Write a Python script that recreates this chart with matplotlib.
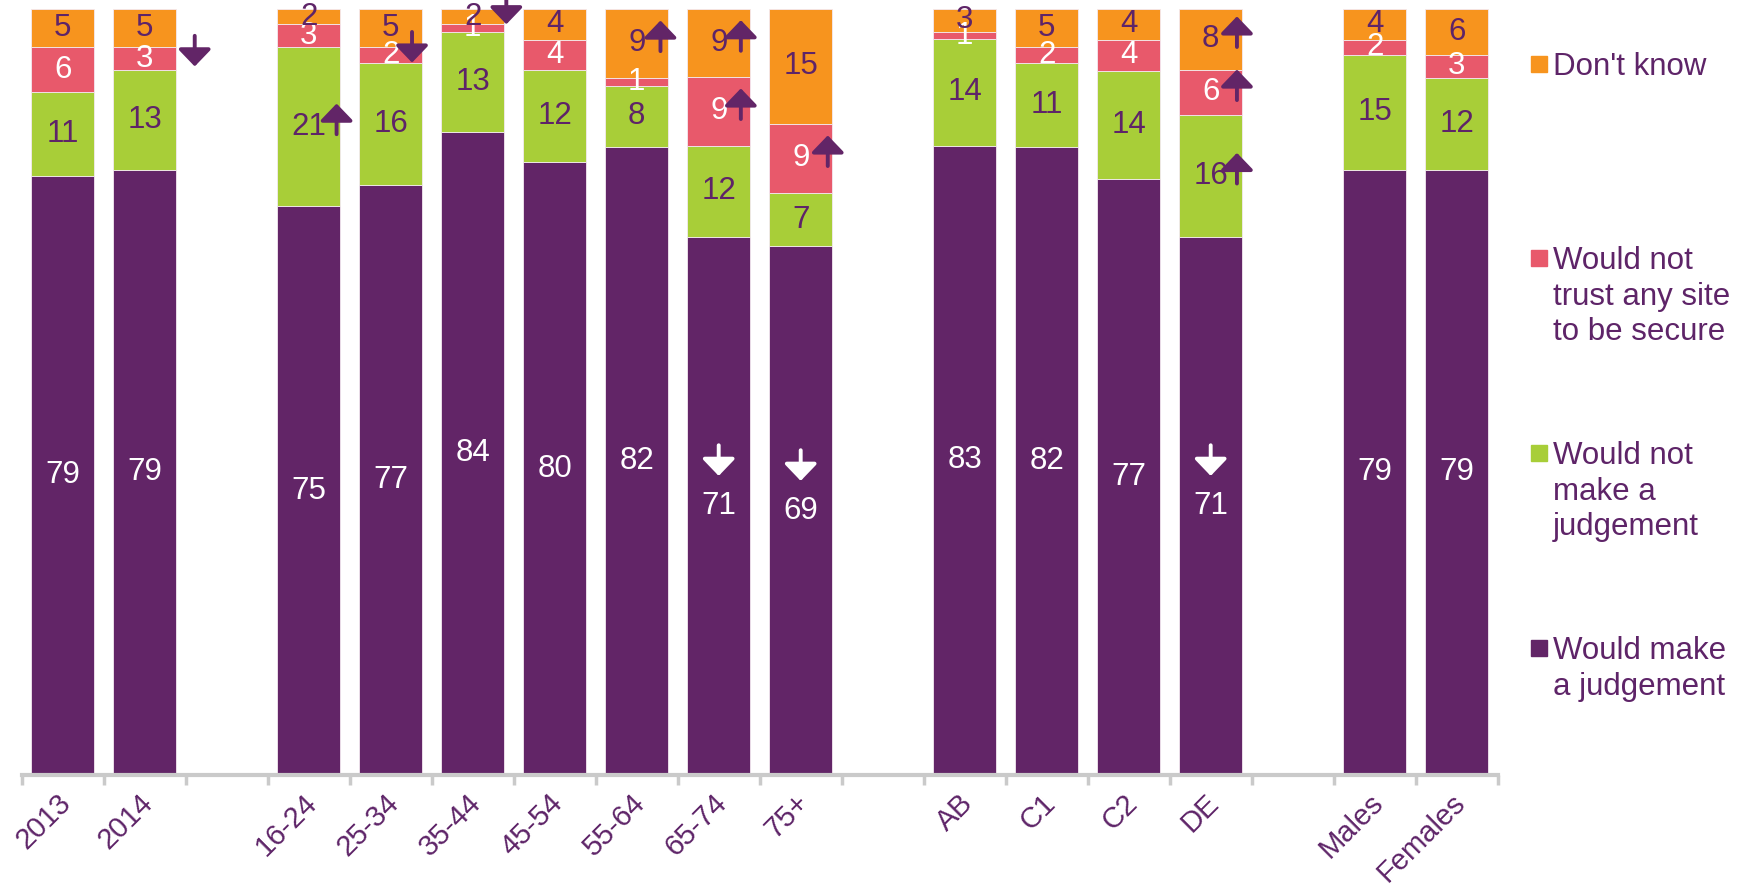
import numpy as np
import matplotlib
matplotlib.use("Agg")
import matplotlib.pyplot as plt
from matplotlib.patches import Rectangle
from matplotlib.transforms import ScaledTranslation

plt.rcParams['font.family'] = ['Liberation Sans', 'DejaVu Sans']

ORANGE = '#F7941E'
PINK = '#E8596B'
GREEN = '#A8CE38'
PURPLE = '#622567'
TEXT = '#5E2468'
GREY = '#CACACA'

# groups of columns, an empty slot between each group
groups = [['2013', '2014'],
          ['16-24', '25-34', '35-44', '45-54', '55-64', '65-74', '75+'],
          ['AB', 'C1', 'C2', 'DE'],
          ['Males', 'Females']]

# % of respondents, bottom to top
judge     = [79, 79, 75, 77, 84, 80, 82, 71, 69, 83, 82, 77, 71, 79, 79]
no_judge  = [11, 13, 21, 16, 13, 12, 8, 12, 7, 14, 11, 14, 16, 15, 12]
no_trust  = [6, 3, 3, 2, 1, 4, 1, 9, 9, 1, 2, 4, 6, 2, 3]
dont_know = [5, 5, 2, 5, 2, 4, 9, 9, 15, 3, 5, 4, 8, 4, 6]

series = [
    ('judge', judge, PURPLE, 'white', 'Would make\na judgement'),
    ('no_judge', no_judge, GREEN, TEXT, 'Would not\nmake a\njudgement'),
    ('no_trust', no_trust, PINK, 'white', 'Would not\ntrust any site\nto be secure'),
    ('dont_know', dont_know, ORANGE, TEXT, "Don't know"),
]

# significance arrows: column, series, direction, sideways shift (in columns)
side_arrows = [
    ('2014', 'no_trust', 'down', 0.61),
    ('16-24', 'no_judge', 'up', 0.34),
    ('25-34', 'no_trust', 'down', 0.26),
    ('35-44', 'dont_know', 'down', 0.41),
    ('55-64', 'dont_know', 'up', 0.29),
    ('65-74', 'dont_know', 'up', 0.27),
    ('65-74', 'no_trust', 'up', 0.27),
    ('75+', 'no_trust', 'up', 0.33),
    ('DE', 'dont_know', 'up', 0.32),
    ('DE', 'no_trust', 'up', 0.32),
    ('DE', 'no_judge', 'up', 0.32),
]
white_arrows = ['65-74', '75+', 'DE']

# x positions
cats, xpos = [], []
slot = 0
for g in groups:
    for c in g:
        cats.append(c)
        xpos.append(slot)
        slot += 1
    slot += 1
nslots = slot - 1
xpos = np.array(xpos, dtype=float)

raw = np.array([s[1] for s in series], dtype=float)
totals = raw.sum(axis=0)
shares = raw / totals * 100

FS = 22.5

fig = plt.figure(figsize=(17.43, 8.86), dpi=100)
ax = fig.add_axes([21.7 / 1743, 111 / 886, 1476 / 1743, 766 / 886])

bottom = np.zeros(len(cats))
mids = {}
for (key, vals, col, tcol, lab), h in zip(series, shares):
    ax.bar(xpos, h, bottom=bottom, width=0.765, color=col,
           edgecolor='#f3e9f1', linewidth=0.6)
    mid = bottom + h / 2
    mids[key] = mid
    for x, y, v in zip(xpos, mid, vals):
        ax.text(x, y, str(v), ha='center', va='center', fontsize=FS, color=tcol)
    bottom = bottom + h

ARROW_H = 4.0


def arrow(x, yc, direction, color):
    if direction == 'up':
        tip, tail = yc + ARROW_H / 2, yc - ARROW_H / 2
    else:
        tip, tail = yc - ARROW_H / 2, yc + ARROW_H / 2
    ax.annotate('', xy=(x, tip), xytext=(x, tail), annotation_clip=False,
                arrowprops=dict(arrowstyle='-|>,head_width=0.5,head_length=0.52',
                                mutation_scale=20, lw=2.8, color=color,
                                shrinkA=0, shrinkB=0))


for c, key, d, dx in side_arrows:
    i = cats.index(c)
    arrow(xpos[i] + dx, mids[key][i] + 1.0, d, PURPLE)

for c in white_arrows:
    i = cats.index(c)
    arrow(xpos[i], mids['judge'][i] + 5.9, 'down', 'white')

ax.set_xlim(-0.5, nslots - 0.5)
ax.set_ylim(0, 100)
for s in ['top', 'right', 'left']:
    ax.spines[s].set_visible(False)
ax.spines['bottom'].set_color(GREY)
ax.spines['bottom'].set_linewidth(3)
ax.set_yticks([])

ax.set_xticks(xpos)
ax.set_xticklabels(cats, rotation=45, ha='right', va='top', fontsize=21, color=TEXT)
ax.tick_params(axis='x', which='major', length=0, pad=10)
shift = ScaledTranslation(10 / 72, 0, fig.dpi_scale_trans)
for t in ax.get_xticklabels():
    t.set_transform(t.get_transform() + shift)
ax.set_xticks(np.arange(-0.5, nslots), minor=True)
ax.tick_params(axis='x', which='minor', length=7, width=2.5, color=GREY)

# legend on the right
W, H = 1743, 886
leg_y = [64, 258, 453, 648]
for (key, vals, col, tcol, lab), y in zip(series[::-1], leg_y):
    fig.patches.append(Rectangle((1531 / W, 1 - (y + 8) / H), 16 / W, 16 / H,
                                 transform=fig.transFigure, color=col))
    fig.text(1553 / W, 1 - (y - 12) / H, lab, ha='left', va='top',
             fontsize=FS, color=TEXT, linespacing=1.25)

fig.savefig('out.png', dpi=100)
